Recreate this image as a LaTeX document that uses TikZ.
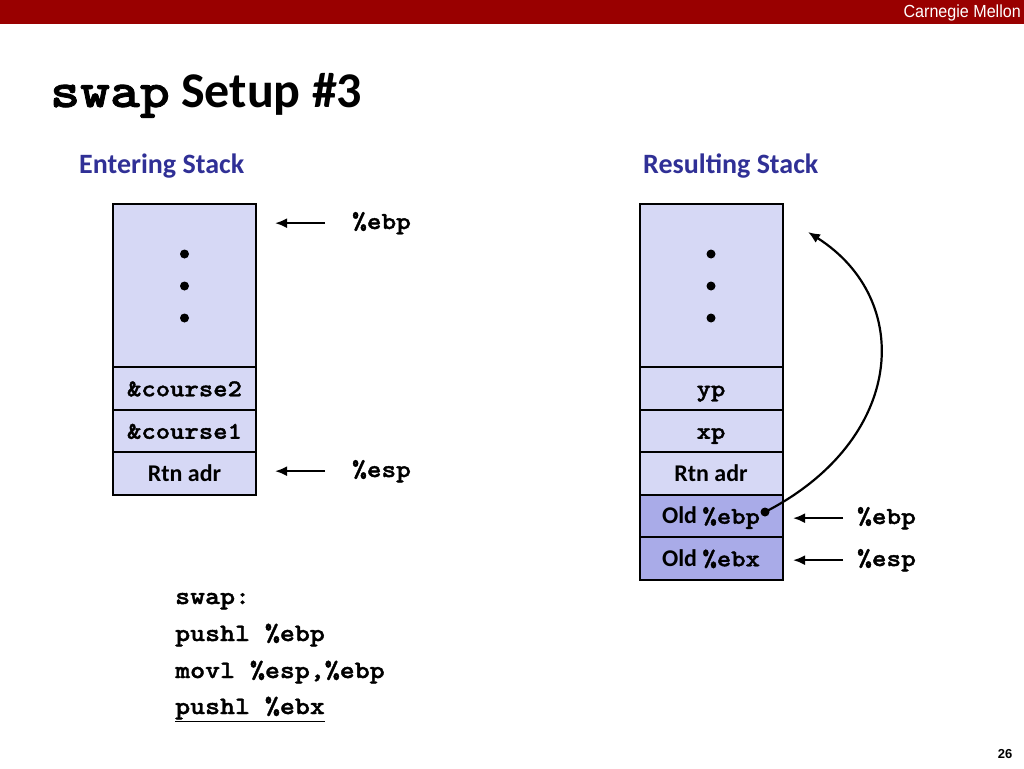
\documentclass[tikz,border=0pt]{standalone}
\usepackage{fontspec}
\setmainfont{Carlito}
\newfontfamily\cour{lmmonolt10-bold.otf}[FakeStretch=1.14,FakeBold=1.6]
\newfontfamily\arialn{Liberation Sans}[FakeStretch=0.92]
\newfontfamily\arialf{Liberation Sans}
\usetikzlibrary{arrows.meta}
\definecolor{cmured}{RGB}{153,0,0}
\definecolor{hdrblue}{RGB}{48,48,150}
\definecolor{cellfill}{RGB}{214,216,245}
\definecolor{darkfill}{RGB}{169,171,232}
\begin{document}
\begin{tikzpicture}[x=1pt,y=-1pt,
  cell/.style={draw=black, line width=2pt, fill=cellfill, minimum width=143pt,
    minimum height=42.5pt, inner sep=0pt, text height=19pt, text depth=3pt,
    font=\fontsize{24}{24}\selectfont\bfseries},
  darkcell/.style={cell, fill=darkfill},
  ptr/.style={line width=2.2pt, -{Latex[length=12pt,width=10pt]}},
  reglabel/.style={anchor=base west, inner sep=0pt, font=\fontsize{24.5}{24.5}\selectfont\cour},
  codeline/.style={anchor=base west, inner sep=0pt, font=\fontsize{25}{25}\selectfont\cour},
  heading/.style={anchor=base west, inner sep=0pt, text=hdrblue, font=\fontsize{28}{28}\selectfont\bfseries},
  dot/.style={fill=black}
]
\useasboundingbox (0,0) rectangle (1024,768);
\fill[white] (0,0) rectangle (1024,768);
% header bar
\fill[cmured] (0,0) rectangle (1024,24);
\node[anchor=east, inner sep=0pt, text=white, font=\fontsize{17.5}{17.5}\selectfont\arialn] (cmu) at (1021,12.5) {Carnegie Mellon};
% title
\node[anchor=base west, inner sep=0pt, font=\fontsize{50}{50}\selectfont\bfseries] (title) at (50,107) {{\fontsize{50}{50}\selectfont\cour swap} Setup \#3};
% headings
\node[heading] (hleft) at (79,173) {Entering Stack};
\node[heading] (hright) at (643,173) {Resulting Stack};
% left stack
\node[cell, minimum height=163pt] (lbig) at (184.5,285.5) {};
\node[cell] (lc2) at (184.5,388.25) {\cour \&course2};
\node[cell] (lc1) at (184.5,430.75) {\cour \&course1};
\node[cell] (lrtn) at (184.5,473.25) {Rtn adr};
\fill[dot] (184.5,254) circle[radius=4.5pt];
\fill[dot] (184.5,286) circle[radius=4.5pt];
\fill[dot] (184.5,318) circle[radius=4.5pt];
% left pointers
\node[reglabel] (lebp) at (352,229) {\%ebp};
\node[reglabel] (lesp) at (352,477) {\%esp};
\draw[ptr] ([xshift=-27pt]lebp.west) -- ([xshift=-77pt]lebp.west);
\draw[ptr] ([xshift=-27pt]lesp.west) -- ([xshift=-77pt]lesp.west);
% right stack
\node[cell, minimum height=163pt] (rbig) at (711,285.5) {};
\node[cell] (ryp) at (711,388.25) {\cour yp};
\node[cell] (rxp) at (711,430.75) {\cour xp};
\node[cell] (rrtn) at (711,473.25) {Rtn adr};
\node[darkcell] (rebp) at (711,515.75) {Old {\cour \%ebp}};
\node[darkcell] (rebx) at (711,558.25) {Old {\cour \%ebx}};
\fill[dot] (711,254) circle[radius=4.5pt];
\fill[dot] (711,286) circle[radius=4.5pt];
\fill[dot] (711,318) circle[radius=4.5pt];
% right pointers
\node[reglabel] (rebpl) at (857,524) {\%ebp};
\node[reglabel] (respl) at (857,566) {\%esp};
\draw[ptr] ([xshift=-14pt]rebpl.west) -- ([xshift=-64pt]rebpl.west);
\draw[ptr] ([xshift=-14pt]respl.west) -- ([xshift=-64pt]respl.west);
% saved ebp link
\coordinate (link) at (765,512);
\coordinate (linkend) at (808,232);
\fill[dot] (link) circle[radius=4.5pt];
\draw[ptr] (link) .. controls (905,440) and (915,300) .. (linkend);
% code
\node[codeline] (code1) at (175,604) {swap:};
\node[codeline] (code2) at (175,641) {pushl \%ebp};
\node[codeline] (code3) at (175,678) {movl \%esp,\%ebp};
\node[codeline] (code4) at (175,714) {\underline{pushl \%ebx}};
% page number
\node[inner sep=0pt, font=\fontsize{13}{13}\selectfont\arialf\bfseries] (pg) at (1005,754) {26};
\end{tikzpicture}
\end{document}
